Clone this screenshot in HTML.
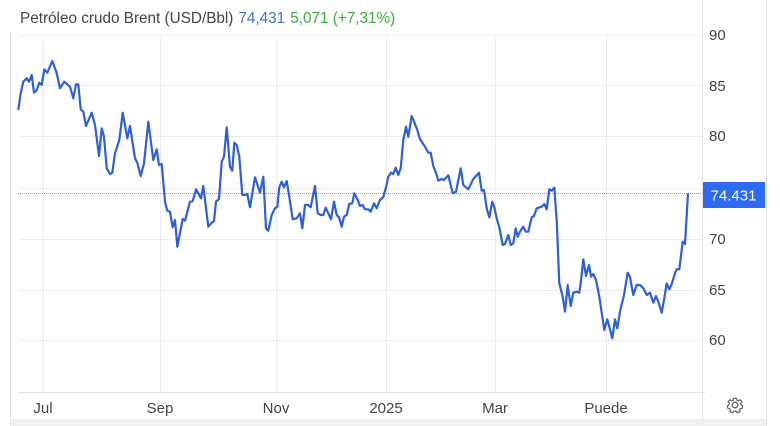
<!DOCTYPE html>
<html><head><meta charset="utf-8"><style>
html,body{margin:0;padding:0;background:#fff;}
body{width:780px;height:426px;overflow:hidden;position:relative;font-family:"Liberation Sans",Arial,sans-serif;}
svg{position:absolute;left:0;top:0;}
</style></head><body>
<svg width="780" height="426" viewBox="0 0 780 426" xmlns="http://www.w3.org/2000/svg">
<rect x="10" y="419" width="756" height="7" fill="#f0f0f0"/>
<line x1="10.5" y1="32" x2="10.5" y2="426" stroke="#e3e3e3" stroke-width="1"/>
<line x1="766.5" y1="0" x2="766.5" y2="426" stroke="#e3e3e3" stroke-width="1"/>
<line x1="702.5" y1="0" x2="702.5" y2="419" stroke="#e3e3e3" stroke-width="1"/>
<g stroke="#ececec" stroke-width="1">
<line x1="18" y1="35.5" x2="702" y2="35.5"/>
<line x1="18" y1="85.5" x2="702" y2="85.5"/>
<line x1="18" y1="136.5" x2="702" y2="136.5"/>
<line x1="18" y1="188.5" x2="702" y2="188.5"/>
<line x1="18" y1="239.5" x2="702" y2="239.5"/>
<line x1="18" y1="290.5" x2="702" y2="290.5"/>
<line x1="18" y1="340.5" x2="702" y2="340.5"/>
<line x1="43.5" y1="35" x2="43.5" y2="392"/>
<line x1="160.5" y1="35" x2="160.5" y2="392"/>
<line x1="276.5" y1="35" x2="276.5" y2="392"/>
<line x1="386.5" y1="35" x2="386.5" y2="392"/>
<line x1="495.5" y1="35" x2="495.5" y2="392"/>
<line x1="606.5" y1="35" x2="606.5" y2="392"/>
</g>
<line x1="18" y1="392.5" x2="705" y2="392.5" stroke="#e3e3e3" stroke-width="1"/>
<line x1="18" y1="193.5" x2="702" y2="193.5" stroke="#7fa0e0" stroke-width="1" stroke-dasharray="1,1"/>
<polyline fill="none" stroke="#2f5fd8" stroke-width="2.2" stroke-linejoin="round" points="18.3,110 20.7,93 23.3,81.7 26.7,78.3 29,81.7 31.7,75 34,92.7 36.7,90 39.3,82.7 41.7,85 44.3,69.3 47.3,72.7 52.3,61 56.7,73.3 60,88.3 64.3,81.7 70,86.7 73.3,98.3 76,84.3 78.3,84.3 80.7,109.3 83.3,111.7 86,126 91.7,112.7 95,125 99,156 101.7,128.3 104,136.7 106.7,168.3 110,174 112.3,172.7 115,153.3 119.3,140 122.7,112.7 127.3,138.3 130,126 135,158.3 137.3,162.7 140.7,176 144,163.3 148.3,121.7 153.3,160 156.7,149.3 159,165 161.7,164 165,201.7 167.3,210.7 170,211.7 172.7,227.3 175,220 177.3,246.7 182.7,219 185,220.7 190,201.7 192.7,201 196,189.3 201,198.3 203.3,186 208.3,226.7 211.7,222.7 214,221 216,201.7 219,199 221.7,161.7 224,156.7 226.7,127.3 230,166.7 232.3,170.7 234.3,142.7 236.7,145 239.3,156.7 242.3,195 245,195 247.3,194 250,207.3 255,177.3 260,192.7 263.3,176.7 266,228.3 268.3,230.7 271.7,215 275,208.3 277.3,206.7 279.3,187.3 281.7,181.7 284,187.3 286.7,181 289,195 292.7,219.3 296.7,218.3 300,213.3 302.3,228.3 305,205 308.3,205 310.7,207.3 315,186 317.7,213.3 320.7,215 323.3,215 325.7,207.7 328.3,213.3 331,219.3 334,201.7 336.7,215 339,217.3 341.7,226.7 344,216.7 346.7,215 349.3,204 352.3,203.3 354.3,193.3 357.7,200 360,206 362.7,205 365,209.3 368.3,209.3 370.7,211.7 374,203.3 376.7,208.3 380,200 383.3,197 386,187.3 388.3,176.7 391,172.7 393.3,174 395.7,167.7 398.3,175 400.7,168.3 403.3,140 406,126.7 408.3,136.7 411.7,116 415,124 417.3,130 420,139.3 422.7,143.3 425,146.7 428.3,152.7 430.7,152.7 433.3,166 436.7,175 438.3,180.7 441.7,179 444,180 448.3,175.3 452.7,193.3 456,191.7 460.7,168.3 463.3,185 468.3,189.3 473.3,179 479,172.7 481.7,190.7 484,190 486.7,208.3 489.3,217.3 492.3,201.7 494.3,207.3 496.7,218.3 499.3,227.3 502.7,245 505,244 508.3,235 510.7,245 513.3,243.3 515.7,228.3 517.7,236.7 520,231.7 523.3,226.7 525.7,231.7 528.3,231.7 531.7,217.3 534,216 536.7,208.3 541.7,206.7 544.3,204 546.7,209.3 549.3,189.3 551.7,190.7 554.3,187.7 556.7,220 559.3,283.3 562.7,296.7 565,311.7 567.7,285 570.7,306 573.3,292.7 576.7,291.7 579.3,292.7 580.7,283.3 583.3,259.3 586,276 589,265 591,276.7 593.3,274 596,280 599.3,296.7 602.3,316.7 604.3,330 607.3,319.3 610,329.3 612.3,338.3 615,319.3 617.3,328.3 620,311.7 624,295 627.7,272.7 630,277.3 633.3,295 636.7,285 640,285 643.3,288.3 646.7,295 650,292.7 653.3,302.7 656,296 658.3,301.7 661.7,312.7 664.3,298.3 666.7,283.3 669.3,289.3 671.7,284 675,273.3 676.7,269.3 679.3,269.3 682.7,241.7 685,244 688,193.3"/>
<g font-family="Liberation Sans, Arial, sans-serif" font-size="15" fill="#444">
<text x="709" y="40">90</text>
<text x="709" y="91">85</text>
<text x="709" y="141">80</text>
<text x="709" y="244">70</text>
<text x="709" y="295">65</text>
<text x="709" y="345">60</text>
<text x="43" y="413" text-anchor="middle">Jul</text>
<text x="160" y="413" text-anchor="middle">Sep</text>
<text x="276" y="413" text-anchor="middle">Nov</text>
<text x="386" y="413" text-anchor="middle">2025</text>
<text x="495" y="413" text-anchor="middle">Mar</text>
<text x="606" y="413" text-anchor="middle">Puede</text>
</g>
<rect x="703" y="182" width="62" height="26" fill="#2f6bf2"/>
<text x="733.5" y="200.5" text-anchor="middle" font-family="Liberation Sans, Arial, sans-serif" font-size="15" fill="#fff">74.431</text>
<g transform="translate(735,405)" fill="none" stroke="#666" stroke-width="1.3">
<circle r="2.8"/>
<path d="M-1.5,-7 L1.5,-7 L2,-5 L3.6,-4.3 L5.3,-5.6 L7.3,-3.5 L6,-1.8 L6.6,0 L8,0.8 L7.5,3.5 L5.6,3.9 L4.7,5.4 L5.3,7.1 L2.6,8.2 L1.4,6.6 L-1.4,6.6 L-2.6,8.2 L-5.3,7.1 L-4.7,5.4 L-5.6,3.9 L-7.5,3.5 L-8,0.8 L-6.6,0 L-6,-1.8 L-7.3,-3.5 L-5.3,-5.6 L-3.6,-4.3 L-2,-5 Z" transform="scale(0.95)"/>
</g>
<text x="20" y="23" font-family="Liberation Sans, Arial, sans-serif" font-size="15.3"><tspan fill="#444">Petróleo crudo Brent (USD/Bbl)</tspan><tspan fill="#3f6fd6" dx="5">74,431</tspan><tspan fill="#3caa3c" dx="5">5,071 (+7,31%)</tspan></text>
</svg>
</body></html>
